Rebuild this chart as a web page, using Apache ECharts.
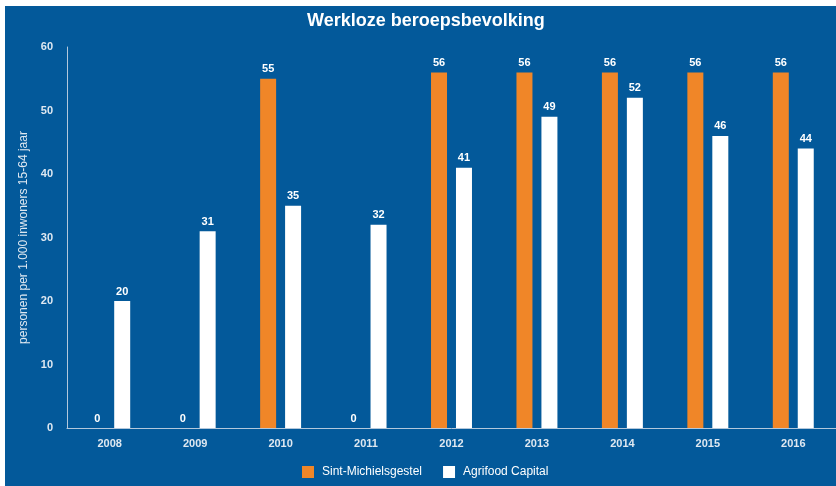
<!DOCTYPE html>
<html><head><meta charset="utf-8">
<script src="https://cdn.jsdelivr.net/npm/echarts@6/dist/echarts.min.js"></script>
<style>html,body{margin:0;padding:0;background:#fff;width:836px;height:486px;overflow:hidden}
#c{position:absolute;left:5px;top:6px;width:831px;height:480px}</style>
</head><body><div id="c"></div>
<script>
const years = ['2008','2009','2010','2011','2012','2013','2014','2015','2016'];
const sintMichielsgestel = [0,0,55,0,56,56,56,56,56];
const agrifoodCapital = [20,31,35,32,41,49,52,46,44];
const yTicks = {min:0,max:60,interval:10};
const chart = echarts.init(document.getElementById('c'));
const lbl = {show:true,position:'top',color:'#fff',fontWeight:'bold',fontSize:11,fontFamily:'Liberation Sans, Arial',distance:4};
chart.setOption({
  backgroundColor:'#03599a',
  animation:false,
  title:{text:'Werkloze beroepsbevolking',left:302,top:1,padding:[5,0,5,0],textStyle:{color:'#fff',fontSize:18,fontWeight:'bold',fontFamily:'Liberation Sans, Arial'}},
  grid:{left:62,right:-3,top:41,bottom:58},
  legend:{bottom:8,left:297,padding:0,itemWidth:12,itemHeight:12,itemGap:21,icon:'rect',textStyle:{color:'#fff',fontSize:12,fontFamily:'Liberation Sans, Arial',padding:[0,0,0,3]},data:['Sint-Michielsgestel','Agrifood Capital']},
  xAxis:{type:'category',data:years,axisLine:{lineStyle:{color:'#b3c8dc',width:1}},axisTick:{show:false},
    axisLabel:{color:'#dfe8f1',fontWeight:'bold',fontSize:11,fontFamily:'Liberation Sans, Arial',margin:10}},
  yAxis:{type:'value',min:yTicks.min,max:yTicks.max,interval:yTicks.interval,
    name:'personen per 1.000 inwoners 15-64 jaar',nameLocation:'middle',nameGap:27,nameRotate:90,
    nameTextStyle:{color:'#dfe8f1',fontSize:12,fontFamily:'Liberation Sans, Arial'},
    axisLine:{show:true,lineStyle:{color:'#b3c8dc',width:1}},axisTick:{show:false},splitLine:{show:false},
    axisLabel:{color:'#dfe8f1',fontWeight:'bold',fontSize:11,fontFamily:'Liberation Sans, Arial',margin:14}},
  series:[
    {name:'Sint-Michielsgestel',type:'bar',data:sintMichielsgestel,barWidth:16,barGap:'56%',itemStyle:{color:'#f08628'},label:lbl},
    {name:'Agrifood Capital',type:'bar',data:agrifoodCapital,barWidth:16,itemStyle:{color:'#ffffff'},label:lbl}
  ]
});
</script></body></html>
